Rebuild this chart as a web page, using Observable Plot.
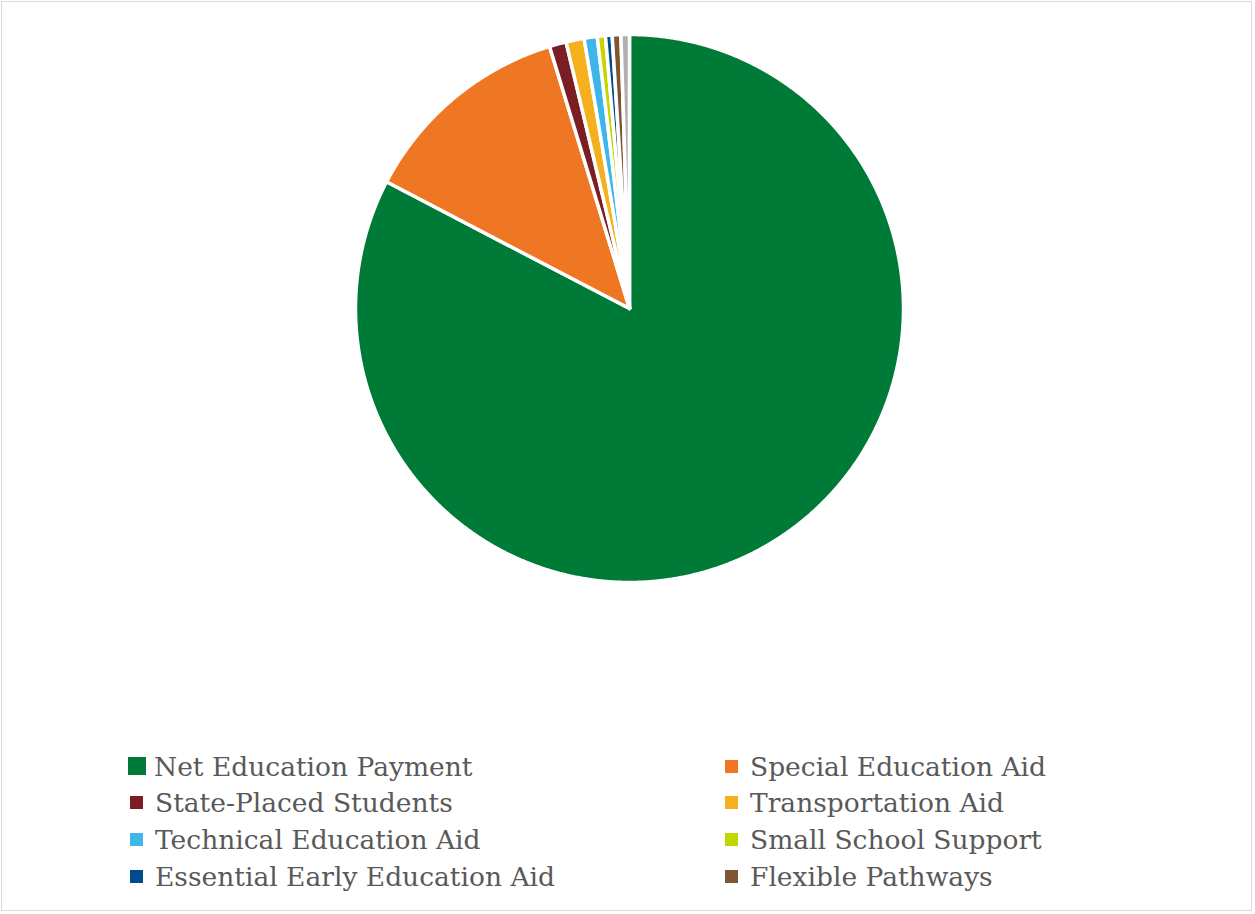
<!DOCTYPE html>
<html><head><meta charset="utf-8">
<script src="https://cdn.jsdelivr.net/npm/d3@7"></script>
<script src="https://cdn.jsdelivr.net/npm/@observablehq/plot@0.6"></script>
<style>
body{margin:0;background:#fff;}
#frame{position:absolute;left:1px;top:1px;width:1251px;height:910px;border:1px solid #d9d9d9;box-sizing:border-box;}
#chart{position:absolute;left:0;top:0;}
#legend{position:absolute;left:0;top:745px;width:1255px;font-family:"DejaVu Serif",serif;font-size:26.5px;color:#595959;}
.item{position:absolute;display:flex;align-items:center;white-space:nowrap;}
.sw{display:inline-block;margin-right:8px;}
</style></head>
<body>
<div id="frame"></div>
<div id="chart"></div>
<div id="legend"></div>
<script>
const categories = ["Net Education Payment","Special Education Aid","State-Placed Students","Transportation Aid","Technical Education Aid","Small School Support","Essential Early Education Aid","Flexible Pathways","Other"];
const shares = [82.6, 12.63, 0.99, 1.07, 0.77, 0.48, 0.39, 0.51, 0.5];
const colors = ["#007A37","#EF7622","#7B1E23","#F5B01E","#3DB7E9","#C3D600","#004B8D","#7F5632","#B0B0B0"];
const legendItems = categories.slice(0, 8);

const pie = d3.pie().sort(null).value(d => d)(shares);
const pts = [];
pie.forEach((s, i) => {
  const cat = categories[i];
  pts.push({cat, x: 0, y: 0});
  const n = Math.max(2, Math.ceil((s.endAngle - s.startAngle) / (Math.PI / 720)));
  for (let k = 0; k <= n; k++) {
    const a = s.startAngle + (s.endAngle - s.startAngle) * k / n;
    pts.push({cat, x: Math.sin(a), y: Math.cos(a)});
  }
});

const chart = Plot.plot({
  width: 1255, height: 616,
  marginLeft: 355, marginRight: 352, marginTop: 34, marginBottom: 34,
  x: {domain: [-1, 1], axis: null},
  y: {domain: [-1, 1], axis: null},
  color: {domain: categories, range: colors},
  marks: [
    Plot.line(pts, {x: "x", y: "y", z: "cat", fill: "cat", stroke: "white", strokeWidth: 3.5, curve: "linear-closed", strokeLinejoin: "round"})
  ]
});
document.getElementById("chart").appendChild(chart);

const lg = document.getElementById("legend");
const colX = [128, 723], rowY = [21, 57, 94, 131];
legendItems.forEach((c, i) => {
  const d = document.createElement("div");
  d.className = "item";
  const col = i % 2, row = Math.floor(i / 2);
  const sz = i === 0 ? 18 : 13;
  d.style.left = (colX[col] + (i === 0 ? 0 : 2)) + "px";
  d.style.top = (rowY[row] - 16) + "px";
  d.style.height = "32px";
  const sw = document.createElement("span");
  sw.className = "sw";
  sw.style.width = sz + "px"; sw.style.height = sz + "px";
  sw.style.background = colors[i];
  if (i !== 0) sw.style.marginRight = "12px";
  d.appendChild(sw);
  d.appendChild(document.createTextNode(c));
  lg.appendChild(d);
});
</script>
</body></html>
